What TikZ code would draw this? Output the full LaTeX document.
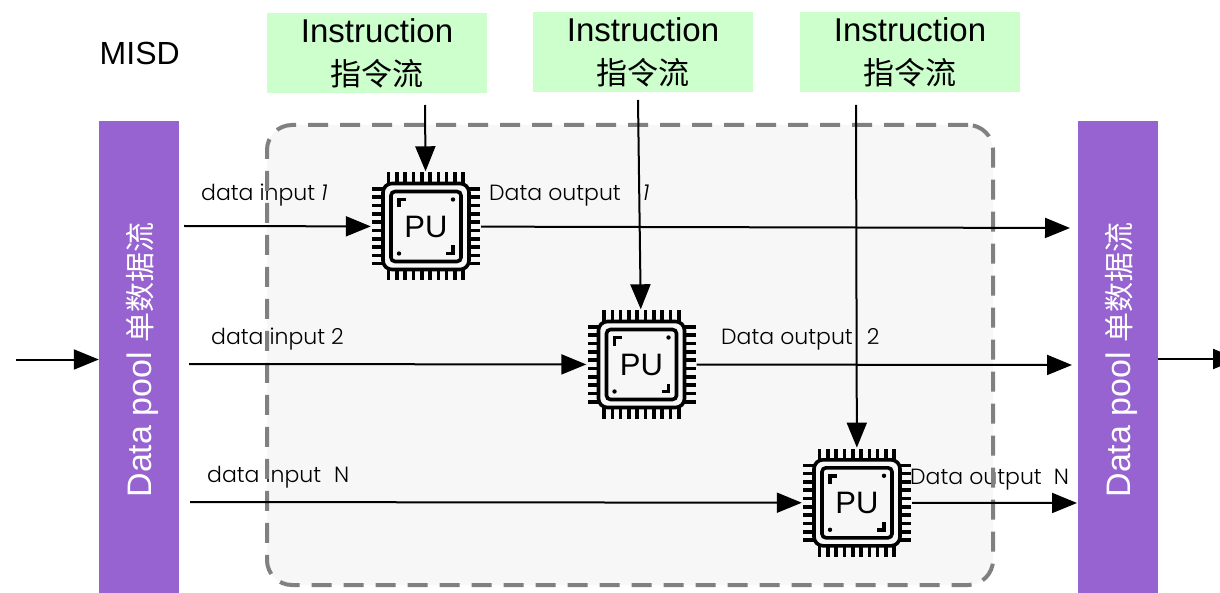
\documentclass[tikz,border=0pt]{standalone}
\usepackage{fontspec}
\usepackage{xcolor}
\usetikzlibrary{arrows.meta}
\setmainfont{Liberation Sans}
\newfontfamily\cjk{Noto Sans CJK SC}
\newfontfamily\handfont{Poppins Light}
\definecolor{poolpurple}{HTML}{9663D0}
\definecolor{instgreen}{HTML}{CCFFCC}

\tikzset{
  flow/.style={line width=2pt,-{Triangle[length=25pt,width=20pt]}},
  poolbox/.style={rectangle,fill=poolpurple,text=white,rotate=90,minimum width=472pt,minimum height=80pt,
    inner sep=0pt,font=\fontsize{34}{38}\selectfont},
  instbox/.style={rectangle,fill=instgreen,minimum width=220pt,minimum height=80pt,align=center,inner sep=0pt,
    font=\fontsize{33}{43}\selectfont},
  flowlabel/.style={anchor=west,inner sep=0pt,font=\handfont\fontsize{22}{26}\selectfont},
  pubody/.style={rectangle,minimum size=110pt,inner sep=0pt,font=\fontsize{31}{36}\selectfont},
}

% chip: name, x, y
\newcommand{\puchip}[3]{
  \node[pubody] (#1) at (#2,#3) {PU};
  \begin{scope}[shift={(#2,#3)},line width=3.6pt]
    \draw[rounded corners=9pt] (-43,-43) rectangle (43,43);
    \draw[rounded corners=4pt] (-35,-35) rectangle (35,35);
    \foreach \p in {-37.5,-29.2,...,38} {
      \draw (\p,-43) -- (\p,-54);
      \draw (\p,43) -- (\p,54);
      \draw (-43,\p) -- (-54,\p);
      \draw (43,\p) -- (54,\p);
    }
    \draw (-20,-27) -- (-27,-27) -- (-27,-19);
    \draw (20,27) -- (27,27) -- (27,19);
    \fill (-27,27) circle (2.2pt);
    \fill (27,-27) circle (2.2pt);
  \end{scope}
}

\begin{document}
\begin{tikzpicture}[x=1pt,y=-1pt]
  \useasboundingbox (0,0) rectangle (1220,593);

  \node[anchor=west,inner sep=0pt,font=\fontsize{32}{36}\selectfont] (misd) at (99.5,53) {MISD};

  \node[poolbox] (poolin) at (139,357) {\smash{\raisebox{-12pt}{Data pool {\cjk\fontsize{30}{36}\selectfont 单数据流}}}\hspace{6pt}\null};
  \node[poolbox] (poolout) at (1118,357) {\smash{\raisebox{-12pt}{Data pool {\cjk\fontsize{30}{36}\selectfont 单数据流}}}\hspace{6pt}\null};

  \node[instbox] (inst1) at (377,53) {Instruction\\{\cjk\fontsize{31}{43}\selectfont 指令流}};
  \node[instbox] (inst2) at (643,52) {Instruction\\{\cjk\fontsize{31}{43}\selectfont 指令流}};
  \node[instbox] (inst3) at (910,52) {Instruction\\{\cjk\fontsize{31}{43}\selectfont 指令流}};

  % labels go under the dashed frame
  \node[flowlabel] (lin1) at (201,195) {data input {\itshape 1}};
  \node[flowlabel] (lin2) at (211,339) {data input 2};
  \node[flowlabel] (lin3) at (207,477) {data input\hspace{7pt} N};
  \node[flowlabel] (lout1) at (489,196) {Data output\hspace{22pt}{\itshape 1}};
  \node[flowlabel] (lout2) at (721,339) {Data output\hspace{8pt} 2};
  \node[flowlabel] (lout3) at (910,480) {Data output\hspace{6pt} N};

  \node[rectangle,draw=gray,line width=4pt,dash pattern=on 20pt off 12pt,rounded corners=25pt,
    fill=black,fill opacity=.03,draw opacity=1,minimum width=726pt,minimum height=460pt] (frame) at (630,355) {};

  \puchip{pu1}{426}{226.5}
  \puchip{pu2}{641.5}{364.5}
  \puchip{pu3}{857}{502.8}

  \coordinate (tap1) at (425,105);
  \coordinate (tap2) at (638,100);
  \coordinate (tap3) at (856,105);
  \coordinate (in1) at (184,226);
  \coordinate (in2) at (189,364);
  \coordinate (in3) at (190,502);
  \coordinate (out1) at (1070,228);
  \coordinate (out2) at (1072,365);
  \coordinate (out3) at (1077,503);
  \coordinate (entry) at (16,359.5);
  \coordinate (exit) at (1238,359);

  \foreach \n in {1,2,3} {
    \draw[flow] (tap\n) -- (pu\n);
    \draw[flow] (in\n) -- (pu\n);
    \draw[flow] (pu\n) -- (out\n);
  }
  \draw[flow] (entry) -- (entry -| poolin.north);
  \draw[flow] (exit -| poolout.south) -- (exit);
\end{tikzpicture}
\end{document}
